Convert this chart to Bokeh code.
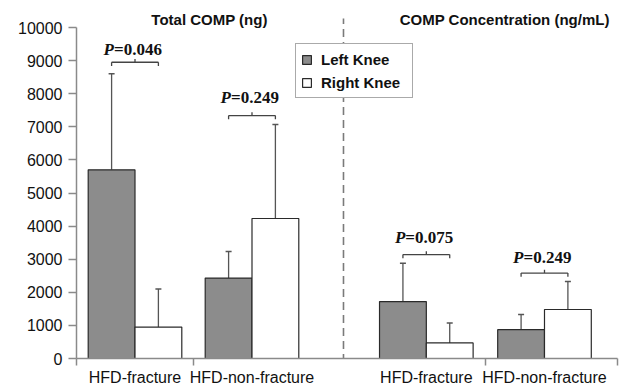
from bokeh.plotting import figure
from bokeh.models import (ColumnDataSource, Range1d, FixedTicker, Whisker, TeeHead,
                          Legend, LegendItem, Label)
from bokeh.core.properties import value
from bokeh.embed import file_html
from bokeh.resources import INLINE

# ---- data ----
groups = ["HFD-fracture", "HFD-non-fracture", "HFD-fracture", "HFD-non-fracture"]
group_pos = [0.5, 1.5, 2.99, 4.0]
left_knee = [5700, 2430, 1720, 870]
left_err = [2900, 800, 1160, 460]
right_knee = [950, 4230, 470, 1480]
right_err = [1150, 2840, 600, 850]
p_values = ["0.046", "0.249", "0.075", "0.249"]
bracket_y = [8950, 7340, 3140, 2580]
p_text_y = [9330, 7890, 3660, 3060]
panel_titles = ["Total COMP (ng)", "COMP Concentration (ng/mL)"]
y_ticks = list(range(0, 10001, 1000))

BAR_W = 0.4
left_x = [g - BAR_W / 2 for g in group_pos]
right_x = [g + BAR_W / 2 for g in group_pos]

p = figure(width=619, height=388, output_backend="svg", toolbar_location=None,
           x_range=Range1d(0, 4.624), y_range=Range1d(0, 10816),
           min_border_left=76, min_border_right=2, min_border_top=0,
           min_border_bottom=30, background_fill_color="white",
           border_fill_color="white")
p.outline_line_color = None
p.grid.visible = False

AXIS_COL = "#8a8a8a"
TXT = "#111111"

# dashed divider
div_x = 2.282
p.segment(x0=[div_x], y0=[-500], x1=[div_x], y1=[10270], line_color="#7a7a7a",
          line_width=1.6, line_dash="8 5")

src_l = ColumnDataSource(dict(x=left_x, top=left_knee,
                              upper=[v + e for v, e in zip(left_knee, left_err)]))
src_r = ColumnDataSource(dict(x=right_x, top=right_knee,
                              upper=[v + e for v, e in zip(right_knee, right_err)]))

for src in (src_l, src_r):
    w = Whisker(base="x", lower="top", upper="upper", source=src,
                line_color="#555555", line_width=1.3,
                upper_head=TeeHead(size=6, line_color="#555555", line_width=1.5),
                lower_head=None)
    p.add_layout(w)

rl = p.vbar(x="x", top="top", width=BAR_W, source=src_l, fill_color="#8c8c8c",
            line_color="#2a2a2a", line_width=1.2)
rr = p.vbar(x="x", top="top", width=BAR_W, source=src_r, fill_color="white",
            line_color="#2a2a2a", line_width=1.2)

# significance brackets
hx0, hx1, hy = [], [], []
for a, b, y in zip(left_x, right_x, bracket_y):
    hx0.append(a); hx1.append(b); hy.append(y)
p.segment(x0=hx0, y0=hy, x1=hx1, y1=hy, line_color="#444444", line_width=1.3)
p.segment(x0=hx0 + hx1, y0=hy + hy, x1=hx0 + hx1, y1=[y - 110 for y in hy + hy],
          line_color="#444444", line_width=1.3)
p.segment(x0=group_pos, y0=hy, x1=group_pos, y1=[y + 100 for y in hy],
          line_color="#444444", line_width=1.3)

psrc = ColumnDataSource(dict(x=group_pos, y=p_text_y,
                             t=["=" + v for v in p_values], P=["P"] * len(p_values)))
p.text(x="x", y="y", text="P", source=psrc, text_align="right", text_baseline="middle",
       x_offset=-21, text_font=value("Liberation Serif"), text_font_style="bold italic",
       text_font_size="17px", text_color=TXT)
p.text(x="x", y="y", text="t", source=psrc, text_align="left", text_baseline="middle",
       x_offset=-21, text_font=value("Liberation Serif"), text_font_style="bold",
       text_font_size="17px", text_color=TXT)

# panel titles
for t, xc in zip(panel_titles, [1.137, 3.66]):
    p.add_layout(Label(x=xc, y=10240, text=t, text_align="center", text_baseline="middle",
                       text_font="Liberation Sans", text_font_style="bold",
                       text_font_size="15px", text_color=TXT))

# axes
ya = p.yaxis[0]
ya.ticker = FixedTicker(ticks=y_ticks, minor_ticks=[])
ya.bounds = (0, 10000)
ya.axis_line_color = AXIS_COL
ya.axis_line_width = 1.5
ya.major_tick_line_color = AXIS_COL
ya.major_tick_line_width = 1.5
ya.major_tick_out = 8
ya.major_tick_in = 0
ya.minor_tick_line_color = None
ya.major_label_standoff = 6
ya.major_label_text_font = "Liberation Sans"
ya.major_label_text_font_size = "16px"
ya.major_label_text_color = TXT

xa = p.xaxis[0]
xa.ticker = FixedTicker(ticks=group_pos, minor_ticks=[0, 1.0, 3.496, 4.62])
xa.major_label_overrides = {g: name for g, name in zip(group_pos, groups)}
xa.axis_line_color = AXIS_COL
xa.axis_line_width = 1.5
xa.major_tick_line_color = None
xa.major_tick_out = 0
xa.major_tick_in = 0
xa.minor_tick_line_color = AXIS_COL
xa.minor_tick_line_width = 1.5
xa.minor_tick_out = 7
xa.minor_tick_in = 0
xa.major_label_standoff = 3
xa.major_label_text_font = "Liberation Sans"
xa.major_label_text_font_size = "16px"
xa.major_label_text_color = TXT

legend = Legend(items=[LegendItem(label="Left Knee", renderers=[rl]),
                       LegendItem(label="Right Knee", renderers=[rr])],
                location=(219, 260), orientation="vertical",
                label_text_font="Liberation Sans", label_text_font_style="bold",
                label_text_font_size="15px", label_text_color=TXT,
                glyph_width=11, glyph_height=11, label_standoff=9,
                label_height=20, label_width=86, spacing=3, padding=5, margin=0,
                border_line_color="#555555", border_line_width=1.5,
                background_fill_color="white", background_fill_alpha=1.0)
p.add_layout(legend)

open("out.html", "w").write(file_html(p, INLINE))
